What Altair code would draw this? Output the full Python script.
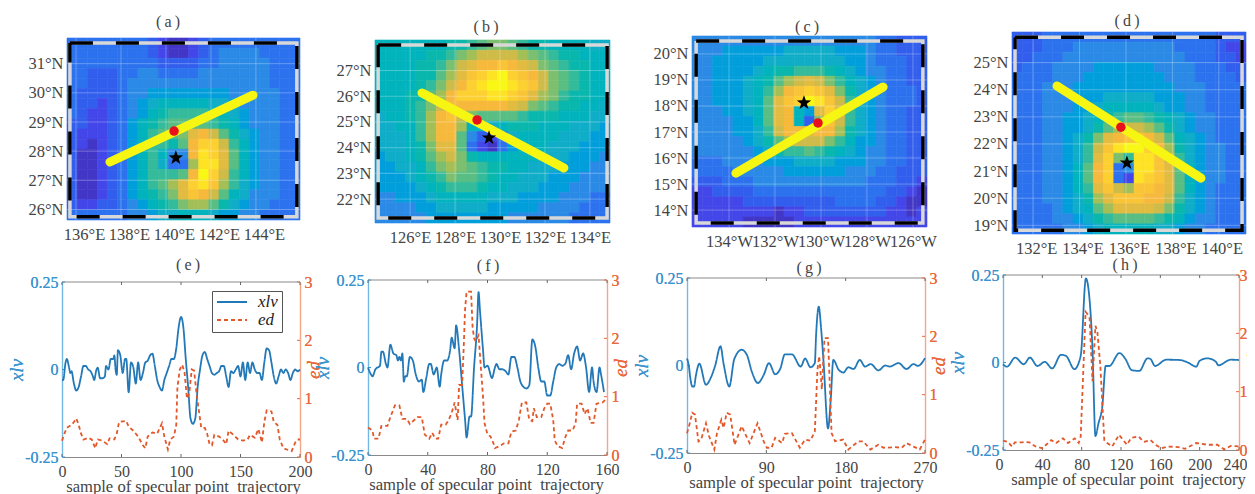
import altair as alt
import pandas as pd

SERIF = "Liberation Serif"
GREY = "#444444"
BLUE = "#2379b8"
BLUE_TXT = "#3a94cf"
ORANGE = "#e2582a"
ORANGE_TXT = "#e8693c"
W, H = 1239, 486

# ---------- heat-map levels (0 = purple ... 20 = yellow) ----------
heat_a = [
[4,4,4,4,4,4,4,4,3,2,1,1,2,3,4,4,4,4,4,4,4,4,4],
[4,4,4,4,4,4,4,4,3,2,1,1,2,3,4,5,5,5,5,4,4,4,4],
[4,4,4,4,4,4,4,4,4,3,3,3,3,4,4,5,5,5,5,5,4,4,4],
[4,4,3,3,3,4,4,5,5,4,4,4,4,5,5,5,5,5,5,5,4,4,4],
[4,4,3,3,3,4,5,5,5,5,5,5,5,5,5,5,5,5,5,5,4,4,4],
[4,3,3,3,3,4,5,5,6,6,6,6,6,6,6,6,5,5,5,5,5,4,4],
[4,3,3,2,3,4,5,6,7,8,8,8,8,8,7,7,6,5,5,5,5,4,4],
[4,3,2,2,3,4,5,6,8,9,10,10,10,10,9,8,7,6,5,5,5,4,4],
[3,3,2,2,3,4,6,8,9,10,11,11,11,11,10,9,8,6,5,5,5,4,4],
[3,2,2,2,3,4,6,8,10,11,11,12,15,16,14,11,9,7,6,5,5,4,4],
[3,2,1,2,3,4,6,8,10,10,9,11,16,18,18,14,10,8,6,5,5,4,4],
[3,1,1,2,3,4,6,8,10,8,5,5,16,19,18,15,11,8,6,5,5,4,4],
[3,1,1,2,3,4,6,8,10,7,4,4,13,19,19,15,11,8,6,5,5,4,4],
[3,1,1,2,3,4,6,8,10,10,10,11,16,20,18,14,10,8,6,5,5,4,4],
[3,1,1,2,3,4,6,8,10,11,13,15,18,19,17,13,10,7,6,5,5,4,4],
[3,1,1,2,3,4,6,8,9,10,12,15,17,16,14,11,8,7,5,5,5,4,4],
[3,2,2,3,3,4,5,6,8,9,10,12,13,13,11,9,7,6,5,5,4,4,4],
[4,4,4,4,4,4,5,5,6,7,7,8,8,8,7,6,6,5,5,4,4,4,4],
]
heat_b = [
[8,8,8,8,8,8,8,9,9,10,11,12,12,11,10,9,9,8,8,8,8,7,7],
[8,8,8,8,8,9,9,10,12,13,14,14,14,14,13,12,11,10,9,9,8,8,8],
[8,8,8,8,9,9,10,12,14,15,16,16,17,16,15,14,12,11,10,9,9,8,8],
[8,8,8,8,9,9,11,13,15,17,18,19,20,18,17,16,14,12,11,10,9,8,8],
[8,8,8,8,9,10,12,14,16,18,19,20,20,19,18,17,14,12,11,10,9,8,8],
[8,8,8,9,9,11,13,16,18,18,18,19,19,18,17,15,13,12,10,9,9,8,8],
[8,8,8,9,10,12,14,16,16,16,16,16,16,15,14,12,11,10,9,9,8,8,7],
[7,8,8,9,10,13,16,17,14,12,11,11,11,11,10,9,9,9,8,8,8,7,7],
[7,7,8,8,10,13,16,16,13,8,7,7,8,9,9,9,8,8,8,7,7,7,6],
[7,7,7,8,10,13,16,16,11,5,3,2,4,7,8,8,8,8,7,7,7,6,6],
[7,7,7,8,9,12,15,15,11,4,2,1,4,6,8,8,8,7,7,7,6,6,6],
[6,7,7,8,9,11,13,14,12,9,8,8,8,8,8,8,7,7,7,6,6,6,5],
[6,6,7,7,8,10,12,13,12,11,10,9,9,8,8,7,7,7,6,6,6,5,5],
[6,6,6,7,8,9,10,12,11,11,10,9,8,8,7,7,7,6,6,6,5,5,5],
[6,6,6,6,7,8,9,10,10,10,9,8,8,7,7,7,6,6,6,5,5,5,5],
[5,5,6,6,6,7,8,8,8,8,8,7,7,7,6,6,6,6,5,5,5,4,4],
[5,5,5,5,6,6,7,7,7,7,7,6,6,6,6,6,5,5,5,5,4,4,4],
[5,5,5,5,5,6,6,6,6,6,6,6,6,5,5,5,5,5,5,4,4,4,4],
]
heat_c = [
[5,5,5,5,5,5,5,5,5,5,5,5,5,5,5,5,5,5,4,4,3,3,3],
[5,5,5,6,6,6,6,6,6,7,7,7,7,7,6,6,6,5,4,4,3,3,3],
[5,5,6,6,6,6,6,7,7,7,7,7,7,7,7,6,6,5,4,4,4,3,3],
[5,5,6,6,6,6,7,8,9,9,10,10,10,9,8,7,6,5,5,4,4,3,3],
[5,5,6,6,6,7,8,9,11,13,14,15,14,12,10,8,7,6,5,4,4,3,3],
[5,5,6,6,6,7,8,10,13,16,17,18,17,15,12,9,7,6,5,4,4,4,3],
[5,5,6,6,6,7,8,11,15,17,18,20,19,17,14,10,7,6,5,4,4,4,3],
[5,5,5,6,6,7,8,11,15,16,8,6,15,18,15,10,7,6,5,4,4,3,3],
[5,5,5,5,6,6,8,11,15,16,8,3,12,17,14,10,7,6,5,4,4,3,3],
[5,5,5,5,6,6,7,10,14,16,16,15,16,16,13,9,7,6,5,4,4,3,3],
[5,5,5,5,5,6,7,9,11,13,14,14,14,12,10,8,6,6,5,4,4,3,3],
[5,5,5,5,5,5,6,7,9,10,10,11,10,9,8,7,6,5,5,4,4,3,3],
[4,4,4,5,5,5,5,6,6,6,7,7,7,7,6,6,6,5,5,4,4,3,3],
[4,4,4,4,5,5,5,5,5,6,6,6,6,6,6,5,5,5,4,4,3,3,3],
[3,3,3,4,4,4,5,5,5,5,5,5,5,5,5,5,5,4,4,4,3,3,2],
[2,2,3,3,3,3,4,4,4,4,4,4,4,4,4,4,4,4,4,3,3,2,1],
[2,2,2,2,2,3,3,3,3,3,3,3,3,3,4,4,4,4,3,3,2,1,1],
[2,2,2,2,2,2,2,2,1,2,2,3,3,3,3,3,3,3,3,2,2,1,2],
[2,2,2,2,2,1,1,1,1,1,2,2,2,2,2,2,2,2,2,2,2,2,2],
]
heat_d = [
[3,3,3,4,4,4,4,4,4,4,4,4,4,4,4,4,4,4,4,4,3,3,3],
[3,3,3,4,4,4,5,5,5,5,5,5,5,5,5,5,4,4,4,4,3,2,2],
[3,3,4,4,4,5,5,5,5,5,5,5,5,5,5,5,5,4,4,4,3,3,2],
[3,4,4,4,5,5,5,5,6,6,6,6,6,6,5,5,5,5,4,4,4,3,3],
[4,4,4,4,5,5,5,6,6,6,6,6,6,6,6,5,5,5,4,4,4,4,3],
[4,4,4,5,5,5,6,6,6,6,6,6,6,6,6,6,5,5,5,4,4,4,4],
[4,4,4,5,5,5,6,6,6,7,7,7,7,7,6,6,6,5,5,4,4,4,4],
[4,4,4,5,5,5,6,6,7,8,8,8,8,8,7,6,6,5,5,4,4,4,4],
[4,4,4,5,5,6,6,7,8,9,10,11,11,10,9,8,7,6,5,5,4,4,4],
[4,4,4,5,5,6,6,7,9,11,13,14,14,13,11,9,7,6,5,5,4,4,4],
[4,4,4,5,5,6,7,9,12,15,16,17,17,16,14,11,8,7,6,5,4,4,4],
[4,4,4,5,5,6,7,10,14,17,19,20,20,18,16,13,9,7,6,5,5,4,4],
[4,4,4,5,5,6,7,10,15,18,12,10,19,19,17,14,10,7,6,5,5,4,4],
[4,4,4,5,5,6,8,11,16,18,4,5,19,19,17,15,11,8,6,5,5,4,4],
[4,4,4,5,5,6,8,11,16,18,4,2,19,18,17,15,11,8,6,5,5,4,4],
[4,4,4,5,5,6,8,10,15,17,14,13,17,17,16,15,11,8,6,5,4,4,4],
[4,4,4,5,5,6,7,9,13,15,17,17,17,16,16,14,10,7,6,5,4,4,4],
[4,4,4,4,5,6,7,8,11,13,15,15,15,15,14,12,9,7,6,5,4,4,4],
[4,4,4,4,5,5,6,7,9,10,11,11,11,11,10,9,8,6,5,5,4,4,4],
[4,4,4,4,4,5,5,6,7,8,8,8,8,8,7,7,6,5,5,4,4,4,4],
]

# ---------- map extents, ticks, track, specular point, eye ----------
maps = [
 dict(heat=heat_a, lon=[135.6,145.96], lat=[25.64,31.88], frame_lon=[135.73,145.82], frame_lat=[25.75,31.71],
      lons=[136,138,140,142,144], lats=[26,27,28,29,30,31], track_lon=[137.51,143.87], track_lat=[27.63,29.92],
      spec=[140.36,28.69], eye=[140.44,27.77], ew="E", off=8, lab="(\u2009a\u2009)", tx=160, ty=14, box=[59,292,30,212]),
 dict(heat=heat_b, lon=[124.44,134.89], lat=[21.07,28.19], frame_lon=[124.58,134.76], frame_lat=[21.26,28.0],
      lons=[126,128,130,132,134], lats=[22,23,24,25,26,27], track_lon=[126.53,132.84], track_lat=[26.13,23.21],
      spec=[128.98,25.08], eye=[129.51,24.38], ew="E", off=0, lab="(\u2009b\u2009)", tx=478, ty=19, box=[367,602,32,215]),
 dict(heat=heat_c, lon=[-135.61,-125.39], lat=[13.35,20.69], frame_lon=[-135.43,-125.57], frame_lat=[13.5,20.5],
      lons=[-134,-132,-130,-128,-126], lats=[14,15,16,17,18,19,20], track_lon=[-133.7,-127.3], track_lat=[15.42,18.73],
      spec=[-130.13,17.35], eye=[-130.74,18.12], ew="W", off=0, lab="(\u2009c\u2009)", tx=799, ty=19, box=[684,919,28,219]),
 dict(heat=heat_d, lon=[131.09,141.17], lat=[18.68,26.13], frame_lon=[131.22,141.0], frame_lat=[18.82,25.94],
      lons=[132,134,136,138,140], lats=[19,20,21,22,23,24,25], track_lon=[133.03,139.23], track_lat=[24.14,20.74],
      spec=[135.78,22.62], eye=[136.04,21.30], ew="E", off=3, lab="(\u2009d\u2009)", tx=1119, ty=13, box=[1004,1238,24,226]),
]

# ---------- line series ----------
e_x = [0,1,3,4,6,7,8,10,12,14,16,18,20,22,24,26,27,29,30,32,34,36,37,39,41,43,44,45,46,47,49,51,53,54,56,58,60,62,64,66,68,70,72,74,76,78,80,82,84,86,88,90,92,94,96,98,100,102,104,106,108,110,112,114,116,118,120,122,124,126,128,130,132,134,136,138,140,142,144,146,148,150,152,154,156,158,160,162,164,166,168,170,172,174,176,178,180,182,184,186,188,190,192,194,196,198,200]
e_xlv = [-.03,-.03,.02,.03,.005,-.01,-.005,-.04,-.06,-.05,-.02,.01,.01,0,-.005,-.02,-.03,0,.005,-.025,-.025,-.02,.01,0,.03,.03,.04,0,-.015,.055,.04,-.01,.03,.03,-.065,.02,.005,-.04,.02,-.03,-.01,.02,.025,.04,.045,.01,-.03,-.05,-.06,-.03,-.01,.01,.03,.03,.06,.12,.15,.12,.03,-.05,-.14,-.155,-.14,-.05,0,.04,.05,.03,.01,-.01,-.015,-.01,-.005,.01,.01,-.02,-.05,-.005,-.01,0,.01,-.02,.02,-.03,.02,-.01,.02,0,-.01,-.01,-.03,.02,.06,.055,.02,-.02,-.04,-.02,0,-.01,0,-.01,-.03,-.01,0,-.005,0]
e_ex = [0,2,4,8,10,12,14,16,18,22,25,28,30,34,38,40,44,46,48,54,56,60,64,68,70,72,76,80,84,86,88,89,91,94,96,97,99,101,103,105,107,109,111,113,115,117,120,122,124,126,128,132,135,138,140,144,148,152,156,158,162,165,168,170,172,176,178,181,183,186,190,193,196,198,200]
e_ed = [.28,.4,.5,.55,.6,.66,.55,.4,.3,.33,.3,.15,.3,.28,.22,.32,.3,.4,.6,.62,.52,.45,.35,.2,.15,.35,.42,.4,.58,.35,.2,.13,.3,.35,.55,1.2,1.5,1.58,1.45,1.0,1.1,1.5,1.48,1.1,.8,.5,.5,.4,.22,.2,.38,.35,.3,.22,.45,.38,.3,.28,.3,.38,.33,.48,.25,.6,.8,.78,.6,.55,.3,.15,.12,.1,.25,.3,.3]

f_x = [0,2,3,5,8,9,10,12,13,15,17,19,20,21,22,23,24,25,26,28,30,32,34,36,37,39,41,42,44,46,48,49,51,53,55,56,58,59,61,63,65,66,68,69,71,73,74,75,77,78,80,83,85,86,88,90,92,94,96,98,100,102,104,106,108,110,112,114,116,118,120,122,124,126,128,130,132,134,136,138,140,142,144,146,148,150,151,153,155,156,158]
f_xlv = [0,-.02,-.025,-.005,.005,.045,.045,.01,0,.065,.04,.035,.02,.03,.02,.04,-.04,-.025,-.025,.03,.02,-.02,-.04,-.035,-.07,-.03,.01,.01,-.02,0,-.055,-.02,.02,.02,.05,.085,.055,.12,.05,-.05,-.15,-.2,-.14,-.14,0,.12,.215,.16,.05,0,.005,-.03,0,.01,-.005,-.005,-.01,-.02,.03,.03,0,-.04,-.055,-.06,-.05,.08,.06,0,-.04,-.04,-.08,-.08,-.04,0,.01,.005,.01,.035,-.005,.04,.06,.02,.04,0,-.07,0,-.04,-.07,0,-.02,-.07]
f_ex = [0,3,4,7,9,13,15,18,21,23,26,28,31,33,36,38,41,43,45,47,49,52,54,56,58,60,61,63,64,65,66,69,70,71,72,74,75,77,78,80,82,84,85,88,91,94,96,99,101,103,106,108,110,111,113,116,118,120,122,124,125,127,130,132,134,137,139,140,143,145,147,149,151,153,157,159]
f_ed = [.47,.42,.28,.28,.5,.5,.65,.85,.85,.62,.62,.53,.6,.65,.65,.35,.28,.38,.28,.28,.52,.52,.6,.72,.9,.6,1.2,1.2,1.8,2.5,2.8,2.8,2.2,2.0,1.95,2.05,1.7,1.0,.55,.35,.32,.2,.12,.15,.2,.2,.4,.42,.6,.9,.9,.6,.58,.8,.65,.65,.8,.88,.88,.6,.25,.15,.12,.3,.42,.42,.55,.88,.88,.7,.8,.55,.55,.88,.9,.95]

g_x = [0,2,4,6,8,10,14,21.5,27,32,38,41.5,48,53.6,62,68,73.6,80.4,87,93,100,106,111,119,129,134,140,145,146.5,149.5,152,155,160,163,166,172,177.5,183,189,196,202,208.5,217,225,230,240,249,257,262,270]
g_xlv = [.02,0,-.04,-.06,-.06,-.03,.005,-.055,-.035,0,.055,.005,-.06,.018,.045,.03,-.018,-.05,-.027,.007,-.025,-.008,.032,.032,-.003,.02,-.005,.007,.09,.168,.11,.007,-.18,-.1,.016,-.012,-.02,-.005,-.01,.016,-.003,.004,-.014,0,-.003,.007,-.01,.004,-.001,.021]
g_ex = [0,3,6,9,13,16,21.5,25,31,34,39,41.5,45,49,54,62,71,80,87,90.6,96,100,108,111,119,128,134,140,145,148,150,153,156,160,164,168,177,183,194.5,200,208,217,223,236,243.6,249,257,264,270]
g_ed = [.34,.5,.69,.66,.2,.23,.51,.29,.06,.34,.57,.43,.69,.66,.14,.46,.17,.51,.2,.09,.09,.26,.17,.33,.34,.09,.23,.21,.37,1.43,1.66,1.09,1.97,1.97,.34,.2,.23,.06,.2,.2,.06,.14,.09,.1,.09,.17,.11,.06,.23]

h_x = [0,4,12.4,21,27.4,35,42.5,50,59,64,72.6,79,84.3,89,91,94,97,101,104.4,108,118.5,124.5,131,138.6,147,150,154.6,166,180,188,196.5,200,208,216.5,219,231.6,240]
h_xlv = [-.005,-.012,.014,-.005,.014,-.01,.002,-.017,.022,.019,-.019,.019,.24,.144,.038,-.21,-.175,-.125,-.01,-.01,.027,.01,-.022,-.024,.012,.01,-.01,.008,.007,0,-.012,.005,.012,.002,-.008,.008,.007]
h_ex = [0,5,9,12,19,22,27,33,40,49,54,61,66,73,77,79,84,88,91,94,96,99,103,106,111,118,126,130.5,138,143,150,155,161,168,178,185,196.5,208,218,225,231.6,240]
h_ed = [.16,.14,.06,.13,.13,.14,.13,.06,.03,.17,.12,.2,.12,.2,.12,.23,2.37,2.28,1.18,2.13,2.02,1.44,.17,.12,.06,.26,.09,.21,.23,.14,.17,.09,.03,.06,.05,.02,.12,.09,.09,.01,.07,.06]

lines = [
 dict(x=e_x, xlv=e_xlv, ex=e_ex, ed=e_ed, xmax=200, xt=[0,50,100,150,200], lab="(\u2009e\u2009)", tx=180, ty=257, box=[54,292,274,449], title_x=175, legend=True),
 dict(x=f_x, xlv=f_xlv, ex=f_ex, ed=f_ed, xmax=160, xt=[0,40,80,120,160], lab="(\u2009f\u2009)", tx=480, ty=258, box=[360,599,272,447], title_x=478, legend=False),
 dict(x=g_x, xlv=g_xlv, ex=g_ex, ed=g_ed, xmax=270, xt=[0,90,180,270], lab="(\u2009g\u2009)", tx=801, ty=260, box=[679,917,270,445], title_x=798, legend=False),
 dict(x=h_x, xlv=h_xlv, ex=h_ex, ed=h_ed, xmax=240, xt=[0,40,80,120,160,200,240], lab="(\u2009h\u2009)", tx=1117, ty=257, box=[995,1231,267,442], title_x=1120, legend=False, edge=True),
]

# parula-like colour ramp
LEVELS = [0, 2, 4, 5, 7, 10, 12, 14, 16, 18, 20]
COLORS = ["#3e26a8", "#4346e8", "#2c72ee", "#2a8ae6", "#0fadc8", "#33bb9b", "#7cbf6e", "#cfbb48", "#f6b93c", "#fdd032", "#f9f714"]
STAR = "M0,-1L0.24,-0.33L0.95,-0.31L0.38,0.12L0.59,0.81L0,0.4L-0.59,0.81L-0.38,0.12L-0.95,-0.31L-0.24,-0.33Z"

def panel_title(text, x, y):
    return alt.Chart(alt.Data(values=[{"t": text}])).mark_text(
        font=SERIF, fontSize=16, color=GREY, align="center", baseline="middle").encode(
        x=alt.value(x), y=alt.value(y), text="t:N")

def make_map(m):
    rows = m["heat"]
    nr, nc = len(rows), len(rows[0])
    lon0, lon1 = m["lon"]
    lat0, lat1 = m["lat"]
    x0, x1, y0, y1 = m["box"]
    cells = []
    for r, row in enumerate(rows):
        for c, v in enumerate(row):
            cells.append(dict(x0=lon0 + (lon1 - lon0) * c / nc, x1=lon0 + (lon1 - lon0) * (c + 1) / nc,
                              y1=lat1 - (lat1 - lat0) * r / nr, y0=lat1 - (lat1 - lat0) * (r + 1) / nr, v=v))
    xs = alt.Scale(domain=[lon0, lon1], range=[x0, x1], nice=False, zero=False)
    ys = alt.Scale(domain=[lat0, lat1], range=[y1, y0], nice=False, zero=False)
    xa = alt.Axis(values=m["lons"], title=None, orient="bottom", offset=-(H - y1), domain=False, ticks=False, grid=False,
                  labelFont=SERIF, labelFontSize=16.5, labelColor=GREY, labelPadding=6, labelOffset=m["off"],
                  labelFlush=False, labelOverlap=False, labelExpr="abs(datum.value) + '°%s'" % m["ew"])
    ya = alt.Axis(values=m["lats"], title=None, orient="left", offset=-x0, domain=False, ticks=False, grid=False,
                  labelFont=SERIF, labelFontSize=16.5, labelColor=GREY, labelPadding=4, labelOverlap=False,
                  labelExpr="datum.value + '°N'")
    X = lambda f: alt.X(f, scale=xs, axis=xa)
    Y = lambda f: alt.Y(f, scale=ys, axis=ya)
    cs = alt.Scale(domain=LEVELS, range=COLORS)
    heat = alt.Chart(pd.DataFrame(cells)).mark_rect(strokeWidth=0.6).encode(
        x=X("x0:Q"), x2="x1:Q", y=Y("y0:Q"), y2="y1:Q",
        color=alt.Color("v:Q", scale=cs, legend=None),
        stroke=alt.Stroke("v:Q", scale=cs, legend=None))
    gx = alt.Chart(pd.DataFrame({"g": m["lons"]})).mark_rule(color="white", opacity=0.28, strokeWidth=1).encode(
        x=X("g:Q"), y=alt.value(y0), y2=alt.value(y1))
    gy = alt.Chart(pd.DataFrame({"g": m["lats"]})).mark_rule(color="white", opacity=0.28, strokeWidth=1).encode(
        y=Y("g:Q"), x=alt.value(x0), x2=alt.value(x1))
    fl0, fl1 = m["frame_lon"]
    fa0, fa1 = m["frame_lat"]
    frame_df = pd.DataFrame({"i": range(5), "x": [fl0, fl1, fl1, fl0, fl0], "y": [fa1, fa1, fa0, fa0, fa1]})
    def frame(color, width, dash=None):
        kw = dict(color=color, strokeWidth=width)
        if dash:
            kw["strokeDash"] = dash
        return alt.Chart(frame_df).mark_line(**kw).encode(x=X("x:Q"), y=Y("y:Q"), order="i:Q")
    track = alt.Chart(pd.DataFrame({"x": m["track_lon"], "y": m["track_lat"]})).mark_line(
        color="#f6f612", strokeWidth=9, strokeCap="round").encode(x=X("x:Q"), y=Y("y:Q"))
    spec = alt.Chart(pd.DataFrame({"x": [m["spec"][0]], "y": [m["spec"][1]]})).mark_point(
        shape="circle", filled=True, color="#e8101c", size=90, opacity=1).encode(x=X("x:Q"), y=Y("y:Q"))
    eye = alt.Chart(pd.DataFrame({"x": [m["eye"][0]], "y": [m["eye"][1]]})).mark_point(
        shape=STAR, filled=True, color="#000000", size=230, opacity=1).encode(x=X("x:Q"), y=Y("y:Q"))
    return alt.layer(heat, gx, gy, frame("#d8d8d8", 3.5), frame("#000000", 3.5, [23, 23]), track, spec, eye,
                     panel_title(m["lab"], m["tx"], m["ty"]))

def make_line(l):
    x0, x1, y0, y1 = l["box"]
    edge = l.get("edge", False)
    xs = alt.Scale(domain=[0, l["xmax"]], range=[x0, x1], nice=False, zero=False)
    yl = alt.Scale(domain=[-0.25, 0.25], range=[y1, y0], nice=False, zero=False)
    yr = alt.Scale(domain=[0, 3], range=[y1, y0], nice=False, zero=False)
    x_kw = dict(labelFlush=True, labelFlushOffset=8) if edge else dict(labelFlush=False)
    xa = alt.Axis(values=l["xt"], title="sample of specular point\u00a0 trajectory", orient="bottom", offset=-(H - y1),
                  domainColor="#8a8a8a", domainWidth=1.2, ticks=False, grid=False, labelFont=SERIF, labelFontSize=16,
                  labelColor=GREY, labelPadding=6, labelOverlap=False, labelAngle=0, format="d",
                  titleFont=SERIF, titleFontSize=16.6, titleFontWeight="normal", titleColor=GREY, titlePadding=-1,
                  titleX=l["title_x"], **x_kw)
    ya = alt.Axis(values=[-0.25, 0, 0.25], title="xlv", orient="left", offset=-x0, domainColor="#74b9e4", domainWidth=1.2,
                  ticks=False, grid=False, labelFont=SERIF, labelFontSize=16, labelColor=BLUE_TXT, labelPadding=4,
                  labelOverlap=False, labelExpr="datum.value == 0 ? '0' : toString(datum.value)",
                  titleFont=SERIF, titleFontSize=19, titleFontStyle="italic", titleFontWeight="normal",
                  titleColor=BLUE_TXT, titlePadding=-2, titleAngle=270)
    yb_kw = dict(values=[0, 1, 2, 3], orient="right", offset=-(W - x1), domainColor="#f2a788", domainWidth=1.2,
                 ticks=False, grid=False, labelFont=SERIF, labelFontSize=16, labelColor=ORANGE_TXT,
                 labelPadding=0 if edge else 4, format="d", labelOverlap=False)
    if edge:
        yb = alt.Axis(title=None, **yb_kw)
    else:
        yb = alt.Axis(title="ed", titleFont=SERIF, titleFontSize=19, titleFontStyle="italic",
                      titleFontWeight="normal", titleColor=ORANGE_TXT, titlePadding=11, titleAngle=270, **yb_kw)
    if l["legend"]:
        lg = alt.Legend(title=None, orient="none", legendX=204, legendY=283, symbolType="stroke", symbolSize=900,
                        symbolStrokeWidth=1.8, fillColor="white", strokeColor="#555555", padding=4,
                        labelFont=SERIF, labelFontSize=17, labelFontStyle="italic", labelColor="#222222",
                        labelOffset=10, rowPadding=1, clipHeight=14)
    else:
        lg = None
    col = alt.Color("s:N", scale=alt.Scale(domain=["xlv", "ed"], range=[BLUE, ORANGE]), legend=lg)
    dsh = alt.StrokeDash("s:N", scale=alt.Scale(domain=["xlv", "ed"], range=[[1, 0], [4, 3]]), legend=lg)
    d1 = pd.DataFrame({"x": l["x"], "v": l["xlv"], "s": "xlv"})
    d2 = pd.DataFrame({"x": l["ex"], "v": l["ed"], "s": "ed"})
    top = alt.Chart(pd.DataFrame({"a": [0]})).mark_rule(color="#8a8a8a", strokeWidth=1.2).encode(
        x=alt.value(x0), x2=alt.value(x1), y=alt.value(y0))
    ticks_b = alt.Chart(pd.DataFrame({"t": l["xt"]})).mark_rule(color="#666666", strokeWidth=1).encode(
        x=alt.X("t:Q", scale=xs, axis=xa), y=alt.value(y1), y2=alt.value(y1 - 3))
    ticks_t = alt.Chart(pd.DataFrame({"t": l["xt"]})).mark_rule(color="#666666", strokeWidth=1).encode(
        x=alt.X("t:Q", scale=xs, axis=xa), y=alt.value(y0), y2=alt.value(y0 + 3))
    ticks_l = alt.Chart(pd.DataFrame({"t": [-0.25, 0, 0.25]})).mark_rule(color=BLUE_TXT, strokeWidth=1).encode(
        y=alt.Y("t:Q", scale=yl, axis=ya), x=alt.value(x0), x2=alt.value(x0 + 3))
    ticks_r = alt.Chart(pd.DataFrame({"t": [0, 1, 2, 3]})).mark_rule(color=ORANGE_TXT, strokeWidth=1).encode(
        y=alt.Y("t:Q", scale=yr, axis=yb), x=alt.value(x1 - 3), x2=alt.value(x1))
    a = alt.Chart(d2).mark_line(strokeWidth=1.8).encode(
        x=alt.X("x:Q", scale=xs, axis=xa), y=alt.Y("v:Q", scale=yr, axis=yb), color=col, strokeDash=dsh)
    b = alt.Chart(d1).mark_line(strokeWidth=1.8, interpolate="monotone").encode(
        x=alt.X("x:Q", scale=xs, axis=xa), y=alt.Y("v:Q", scale=yl, axis=ya), color=col, strokeDash=dsh)
    layers = [top, ticks_b, ticks_t, ticks_l, b, ticks_r, a, panel_title(l["lab"], l["tx"], l["ty"])]
    if edge:
        layers.append(alt.Chart(alt.Data(values=[{"t": "ed"}])).mark_text(
            font=SERIF, fontSize=19, fontStyle="italic", color=ORANGE_TXT, angle=270, clip=True,
            align="center", baseline="middle").encode(
            x=alt.value(W + 7), y=alt.value((y0 + y1) / 2), text="t:N"))
    return alt.layer(*layers).resolve_scale(y="independent").resolve_axis(y="independent")

panels = [make_map(m) for m in maps] + [make_line(l) for l in lines]
chart = alt.layer(*panels).resolve_scale(
    x="independent", y="independent", color="independent", stroke="independent", strokeDash="independent"
).resolve_axis(x="independent", y="independent").properties(
    width=W, height=H, padding=0, background="white",
    autosize=alt.AutoSizeParams(type="none", contains="padding"),
).configure_view(stroke=None)
chart.save("out.html", embed_options={"renderer": "svg", "actions": False})
